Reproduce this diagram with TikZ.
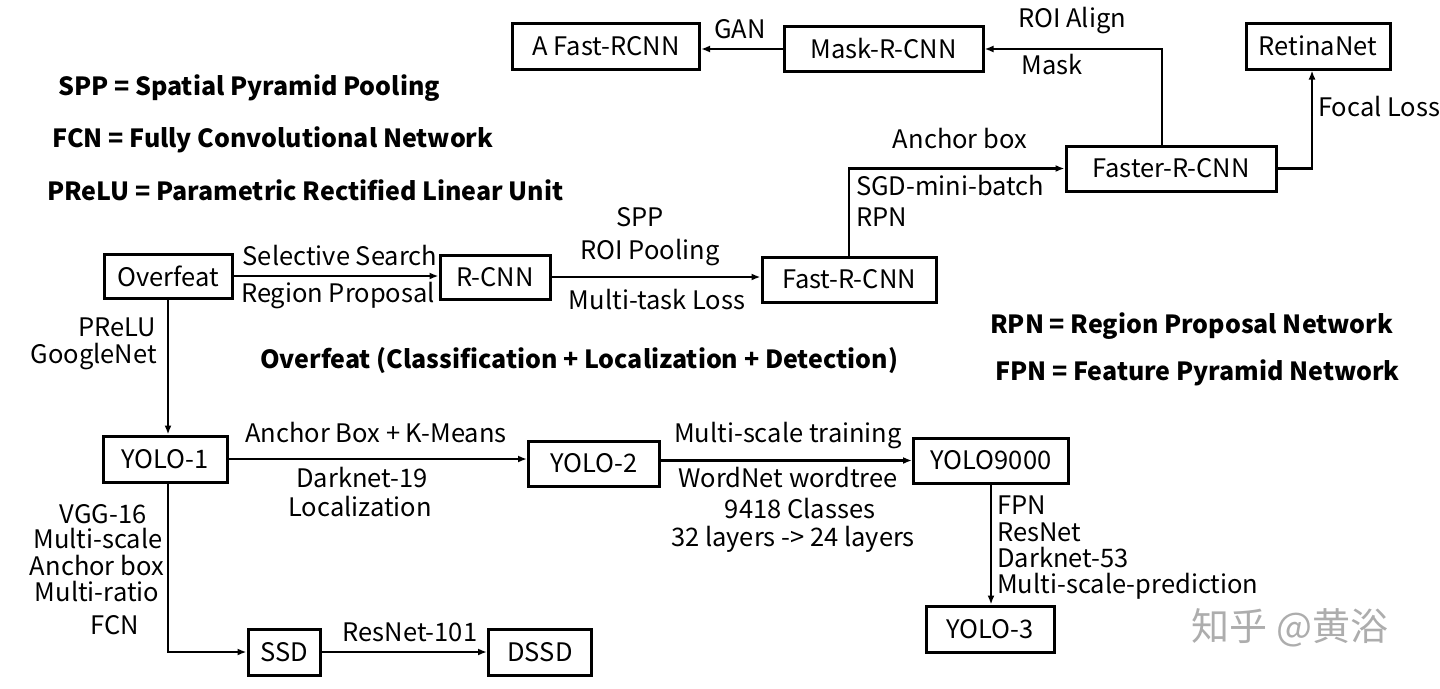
\documentclass[tikz,border=0pt]{standalone}
\usepackage{fontspec}
\setmainfont{Noto Sans CJK SC}
\usetikzlibrary{arrows.meta}
\newcommand\labfont{\fontsize{25.5}{29}\selectfont}
\newcommand\deffont{\fontsize{25}{30}\selectfont\bfseries}
\begin{document}
\begin{tikzpicture}[x=1pt,y=-1pt,
  box/.style={draw,line width=3pt,minimum width=#1,minimum height=45pt,inner sep=0pt,font=\labfont},
  lbl/.style={inner sep=0pt,font=\labfont},
  defn/.style={inner sep=0pt,anchor=west,font=\deffont},
  con/.style={line width=2.6pt,-{Latex[length=9pt,width=7pt]}}]
\useasboundingbox (0,0) rectangle (1440,688);
% boxes
\node[box=187pt,minimum height=46pt] (afast) at (606,46) {A Fast-RCNN};
\node[box=199pt] (mask) at (883.5,49) {Mask-R-CNN};
\node[box=144pt,minimum height=46pt] (retina) at (1318,46) {RetinaNet};
\node[box=210pt] (faster) at (1171,168.5) {Faster-R-CNN};
\node[box=174pt] (fast) at (849,279.5) {Fast-R-CNN};
\node[box=110pt,minimum height=44pt] (rcnn) at (495,277) {R-CNN};
\node[box=128pt,minimum height=44pt] (overfeat) at (168,276) {Overfeat};
\node[box=124pt,minimum height=46pt] (yolo1) at (165,459) {YOLO-1};
\node[box=131pt] (yolo2) at (594,463.5) {YOLO-2};
\node[box=155pt] (yolo9000) at (991,460.5) {YOLO9000};
\node[box=128pt,minimum height=46pt] (yolo3) at (990,629) {YOLO-3};
\node[box=72pt,minimum height=46pt] (ssd) at (284,652) {SSD};
\node[box=103pt,minimum height=46pt] (dssd) at (540,652) {DSSD};
% connectors
\coordinate (fasterup) at ([xshift=-9pt]faster.north);
\coordinate (retinain) at ([xshift=-6pt]retina.south);
\coordinate (yolo1down) at ([xshift=3pt]yolo1.south);
\draw[con] (mask.west) -- (mask.west -| afast.east);
\draw[con] (fasterup) |- (mask.east);
\draw[con] (faster.east) -| (retinain);
\draw[con] (fast.north) |- (faster.west);
\draw[con] (overfeat.east) -- (overfeat.east -| rcnn.west);
\draw[con] (rcnn.east) -- (rcnn.east -| fast.west);
\draw[con] (overfeat.south) -- (overfeat.south |- yolo1.north);
\draw[con] (yolo1.east) -- (yolo1.east -| yolo2.west);
\draw[con] (yolo2.east |- yolo9000.west) -- (yolo9000.west);
\draw[con] (yolo9000.south) -- (yolo9000.south |- yolo3.north);
\draw[con] (yolo1down) |- (ssd.west);
\draw[con] (ssd.east) -- (dssd.west);
% labels
\node[lbl] (lgan) at (740,29) {GAN};
\node[lbl] (lroia) at (1072,21) {ROI Align};
\node[lbl] (lmask) at (1052,65) {Mask};
\node[lbl,anchor=west] (lfocal) at (1318,107) {Focal Loss};
\node[lbl] (lanchor) at (960,139) {Anchor box};
\node[lbl,anchor=west] (lsgd) at (856,186) {SGD-mini-batch};
\node[lbl,anchor=west] (lrpn) at (856,217) {RPN};
\node[lbl] (lspp) at (640,217) {SPP};
\node[lbl] (lroip) at (650,253) {ROI Pooling};
\node[lbl] (lmtl) at (657,300) {Multi-task Loss};
\node[lbl] (lss) at (340,256) {Selective Search};
\node[lbl] (lrp) at (338,296) {Region Proposal};
\node[lbl,anchor=east] (lprelu) at (156,327) {PReLU};
\node[lbl,anchor=east] (lgoog) at (157,357) {GoogleNet};
\node[lbl] (lakm) at (376,433) {Anchor Box + K-Means};
\node[lbl] (ld19) at (362,478) {Darknet-19};
\node[lbl] (lloc) at (360,507) {Localization};
\node[lbl] (lmst) at (788,436) {Multi-scale training};
\node[lbl] (lwn) at (788,478) {WordNet wordtree};
\node[lbl] (l9418) at (800,509) {9418 Classes};
\node[lbl] (l32) at (793,539) {32 layers -> 24 layers};
\node[lbl,anchor=west] (lfpn) at (997,505) {FPN};
\node[lbl,anchor=west] (lres) at (997,532) {ResNet};
\node[lbl,anchor=west] (ld53) at (997,558) {Darknet-53};
\node[lbl,anchor=west] (lmsp) at (997,586) {Multi-scale-prediction};
\node[lbl] (lvgg) at (103,514) {VGG-16};
\node[lbl] (lms) at (98,539) {Multi-scale};
\node[lbl] (lab) at (97,566) {Anchor box};
\node[lbl] (lmr) at (97,592) {Multi-ratio};
\node[lbl] (lfcn) at (115,625) {FCN};
\node[lbl] (lr101) at (410,632) {ResNet-101};
% definitions
\node[defn] (dspp) at (58,88) {SPP = Spatial Pyramid Pooling};
\node[defn] (dfcn) at (52,140) {FCN = Fully Convolutional Network};
\node[defn] (dprelu) at (47,190) {PReLU = Parametric Rectified Linear Unit};
\node[defn] (drpn) at (990,326) {RPN = Region Proposal Network};
\node[defn] (dfpn) at (995,373) {FPN = Feature Pyramid Network};
\node[inner sep=0pt,font=\deffont] (dover) at (579,361) {Overfeat (Classification + Localization + Detection)};
% watermark
\node[inner sep=0pt,font=\fontsize{38}{40}\selectfont,text=black!32] (wm) at (1290,628) {知乎 @黄浴};
\end{tikzpicture}
\end{document}
